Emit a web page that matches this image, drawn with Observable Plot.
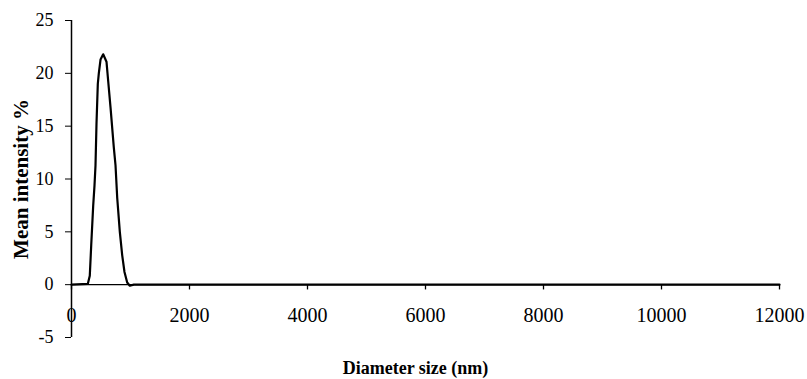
<!DOCTYPE html>
<html>
<head>
<meta charset="utf-8">
<script src="https://cdn.jsdelivr.net/npm/d3@7"></script>
<script src="https://cdn.jsdelivr.net/npm/@observablehq/plot@0.6"></script>
<style>
  html, body { margin: 0; padding: 0; background: #fff; }
  #chart svg { display: block; }
</style>
</head>
<body>
<div id="chart"></div>
<script>
// Diameter size (nm)
const diameter = [0, 276, 310, 334, 368, 390, 407, 424, 446, 463, 492, 537, 593, 615, 661, 717, 746, 775, 819, 859, 898, 944, 988, 1056, 12000];
// Mean intensity %
const intensity = [0, 0.07, 0.85, 3.7, 7.5, 9.4, 11.3, 15.3, 19.0, 20.0, 21.3, 21.8, 21.1, 19.7, 16.8, 13.0, 11.3, 8.2, 5.0, 2.8, 1.2, 0.2, -0.1, 0, 0];
const xTicks = [0, 2000, 4000, 6000, 8000, 10000, 12000];
const yTicks = [-5, 0, 5, 10, 15, 20, 25];
const xLabel = "Diameter size (nm)";
const yLabel = "Mean intensity %";

const data = diameter.map((d, i) => ({x: d, y: intensity[i]}));
const serif = "'Liberation Serif', 'Times New Roman', serif";

const chart = Plot.plot({
  width: 807,
  height: 379,
  marginLeft: 71,
  marginRight: 28,
  marginTop: 20,
  marginBottom: 42,
  style: {fontFamily: serif, background: "#fff", color: "#000"},
  x: {domain: [0, 12000], axis: null},
  y: {domain: [-5, 25], axis: null},
  marks: [
    Plot.axisY(yTicks, {tickSize: 6, tickPadding: 12, fontSize: 18, fill: "#000", stroke: "#000", tickFormat: d => String(d), label: null}),
    Plot.ruleX([0], {stroke: "#000", strokeWidth: 1.5}),
    Plot.ruleY([0], {x1: 0, x2: 12000, stroke: "#000", strokeWidth: 1.3}),
    Plot.ruleX(xTicks, {x: d => d, y1: 0, y2: -0.5, stroke: "#000", strokeWidth: 1.3}),
    Plot.text(xTicks, {x: d => d, y: 0, dy: 31, text: d => String(d), fontSize: 20, fill: "#000"}),
    Plot.line(data, {x: "x", y: "y", stroke: "#000", strokeWidth: 2.2, curve: "linear"}),
    Plot.text([yLabel], {frameAnchor: "left", dx: -50, rotate: -90, textAnchor: "middle", text: d => d, fontSize: 21, fontWeight: "bold", fill: "#000"}),
    Plot.text([xLabel], {frameAnchor: "bottom", dx: -10, dy: 36, text: d => d, fontSize: 18, fontWeight: "bold", fill: "#000"})
  ]
});
document.getElementById("chart").appendChild(chart);
</script>
</body>
</html>
